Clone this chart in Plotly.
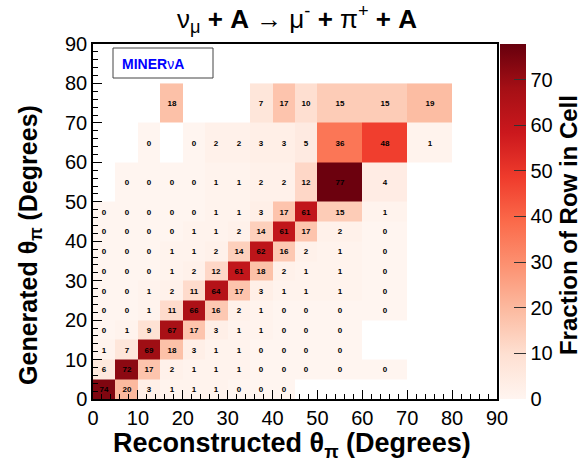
import numpy as np
import plotly.graph_objects as go
import plotly.colors as pc

# Bin edges (degrees)
x_edges = [0, 5, 10, 15, 20, 25, 30, 35, 40, 45, 50, 60, 70, 80]
y_edges = [0, 5, 10, 15, 20, 25, 30, 35, 40, 45, 50, 60, 70, 80]

N = None
# rows: generated theta bins (bottom to top); columns: reconstructed theta bins
row_0_5   = [74, 20, 3, 1, 1, 1, 0, 0, 0, N, N, N, N]
row_5_10  = [6, 72, 17, 2, 1, 1, 1, 0, 0, 0, 0, 0, N]
row_10_15 = [1, 7, 69, 18, 3, 1, 1, 0, 0, 0, 0, N, N]
row_15_20 = [0, 1, 9, 67, 17, 3, 1, 1, 0, 0, 0, N, N]
row_20_25 = [0, 0, 1, 11, 66, 16, 2, 1, 0, 0, 0, 0, N]
row_25_30 = [0, 0, 1, 2, 11, 64, 17, 3, 1, 1, 1, 0, N]
row_30_35 = [0, 0, 0, 1, 2, 12, 61, 18, 2, 1, 1, 0, N]
row_35_40 = [0, 0, 0, 1, 1, 2, 14, 62, 16, 2, 1, 0, N]
row_40_45 = [0, 0, 0, 0, 1, 1, 2, 14, 61, 17, 2, 0, N]
row_45_50 = [0, 0, 0, 0, 0, 1, 1, 3, 17, 61, 15, 1, N]
row_50_60 = [N, 0, 0, 0, 0, 1, 1, 2, 2, 12, 77, 4, N]
row_60_70 = [N, N, 0, N, 0, 2, 2, 3, 3, 5, 36, 48, 1]
row_70_80 = [N, N, N, 18, N, N, N, 7, 17, 10, 15, 15, 19]

rows = [row_0_5, row_5_10, row_10_15, row_15_20, row_20_25, row_25_30,
        row_30_35, row_35_40, row_40_45, row_45_50, row_50_60, row_60_70, row_70_80]

z = np.array([[np.nan if v is None else v for v in r] for r in rows], dtype=float)
text = [["" if v is None else str(v) for v in r] for r in rows]

colorbar_ticks = [0, 10, 20, 30, 40, 50, 60, 70]
axis_ticks = [0, 10, 20, 30, 40, 50, 60, 70, 80, 90]

reds = pc.sequential.Reds
cscale = [[i / (len(reds) - 1), c] for i, c in enumerate(reds)]

FONT = "Liberation Sans, Arial"

fig = go.Figure()
fig.add_trace(go.Heatmap(
    x=x_edges, y=y_edges, z=z, text=text, texttemplate="%{text}",
    textfont=dict(family=FONT, size=8, color="black", weight="bold"),
    colorscale=cscale, zmin=0, zmax=77.8, hoverongaps=False,
    colorbar=dict(
        x=1.007, xanchor="left", xpad=0, ypad=0,
        y=0, yanchor="bottom", len=1.0, lenmode="fraction",
        thickness=26, thicknessmode="pixels", outlinewidth=0,
        tickvals=colorbar_ticks, ticks="inside", ticklen=12, tickcolor="#333",
        tickfont=dict(family=FONT, size=20, color="black"),
    ),
))

axis_common = dict(
    range=[0, 90], tickvals=axis_ticks, ticks="inside", ticklen=9, tickwidth=1,
    tickcolor="black", showgrid=False, zeroline=False, showline=True,
    linecolor="black", linewidth=1.5, mirror=True,
    tickfont=dict(family=FONT, size=20, color="black"),
    minor=dict(dtick=2, ticks="inside", ticklen=5, tickcolor="black", showgrid=False),
)

fig.update_layout(
    width=582, height=464,
    margin=dict(l=93, r=85, t=44, b=65),
    paper_bgcolor="white", plot_bgcolor="white",
    xaxis=dict(**axis_common),
    yaxis=dict(**axis_common),
    showlegend=False,
)

font_b = dict(family=FONT, color="black")

fig.add_annotation(
    xref="paper", yref="paper", x=0.505, y=1.0, yshift=25, yanchor="middle",
    text="ν<sub>μ</sub> <b>+ A</b> → μ<sup>-</sup> <b>+</b> π<sup>+</sup> <b>+ A</b>",
    showarrow=False, font=dict(**font_b, size=26),
)
fig.add_annotation(
    xref="paper", yref="paper", x=0.493, y=0, yshift=-46, yanchor="middle",
    text="<b>Reconstructed θ<sub>π</sub> (Degrees)</b>",
    showarrow=False, font=dict(**font_b, size=27),
)
fig.add_annotation(
    xref="paper", yref="paper", x=0, xshift=-63, y=0.434, xanchor="center",
    text="<b>Generated θ<sub>π</sub> (Degrees)</b>", textangle=-90,
    showarrow=False, font=dict(**font_b, size=25),
)
fig.add_annotation(
    xref="paper", yref="paper", x=1, xshift=71, y=0.49, xanchor="center",
    text="<b>Fraction of Row in Cell</b>", textangle=-90,
    showarrow=False, font=dict(**font_b, size=24),
)

# MINERvA label box
fig.add_shape(type="rect", xref="paper", yref="paper",
              x0=(113 - 93) / 404, x1=(213 - 93) / 404,
              y0=(399 - 78) / 355, y1=(399 - 48) / 355,
              line=dict(color="#444", width=1), fillcolor="white")
fig.add_annotation(
    xref="paper", yref="paper", x=(153 - 93) / 404, y=(399 - 64) / 355,
    xanchor="center", yanchor="middle",
    text="<b>MINER</b>ν<b>A</b>",
    showarrow=False, font=dict(family=FONT, size=14, color="blue"),
)

fig.write_html("out.html")
